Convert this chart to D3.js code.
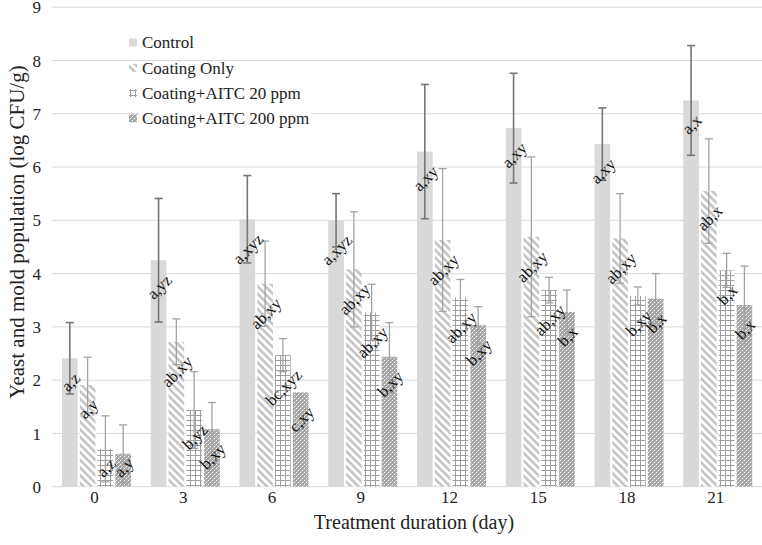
<!DOCTYPE html>
<html><head><meta charset="utf-8">
<script src="https://cdn.jsdelivr.net/npm/d3@7"></script>
<style>
html,body{margin:0;padding:0;background:#fff;}
svg{display:block;font-family:"Liberation Serif","Times New Roman",serif;}
</style></head>
<body>
<svg id="chart" width="762" height="545"></svg>
<script>
const days = ["0","3","6","9","12","15","18","21"];
const seriesNames = ["Control","Coating Only","Coating+AITC 20 ppm","Coating+AITC 200 ppm"];
const yTicks = [0,1,2,3,4,5,6,7,8,9];

const control    = [2.41, 4.25, 5.02, 5.00, 6.29, 6.73, 6.43, 7.25];
const controlErr = [0.67, 1.16, 0.82, 0.50, 1.26, 1.03, 0.68, 1.03];
const coating    = [1.91, 2.72, 3.81, 4.08, 4.63, 4.69, 4.66, 5.55];
const coatingErr = [0.52, 0.43, 0.80, 1.08, 1.34, 1.50, 0.84, 0.98];
const aitc20     = [0.71, 1.44, 2.47, 3.27, 3.55, 3.69, 3.58, 4.06];
const aitc20Err  = [0.62, 0.72, 0.31, 0.53, 0.34, 0.24, 0.17, 0.32];
const aitc200    = [0.62, 1.08, 1.77, 2.44, 3.03, 3.28, 3.53, 3.41];
const aitc200Err = [0.54, 0.50, 0.00, 0.64, 0.35, 0.41, 0.47, 0.73];

const controlLbl = ["a,z","a,yz","a,xyz","a,xyz","a,xy","a,xy","a,xy","a,x"];
const coatingLbl = ["a,y","ab,xy","ab,xy","ab,xy","ab,xy","ab,xy","ab,xy","ab,x"];
const aitc20Lbl  = ["a,z","b,yz","bc,xyz","ab,xy","ab,xy","ab,xy","b,xy","b,x"];
const aitc200Lbl = ["a,y","b,xy","c,xy","b,xy","b,xy","b,x","b,x","b,x"];

const valuesBySeries = [control, coating, aitc20, aitc200];
const errBySeries = [controlErr, coatingErr, aitc20Err, aitc200Err];
const lblBySeries = [controlLbl, coatingLbl, aitc20Lbl, aitc200Lbl];
const fills = ["#d9d9d9","url(#pStripe)","url(#pGrid)","url(#pDot)"];
const errColors = ["#767676","#a3a3a3","#a3a3a3","#a3a3a3"];
const errWidths = [1.6,1.3,1.3,1.3];
const textColor = "#222";

const svg = d3.select("#chart");
const defs = svg.append("defs");
const ps = defs.append("pattern").attr("id","pStripe").attr("patternUnits","userSpaceOnUse")
  .attr("width",5.4).attr("height",10).attr("patternTransform","rotate(-45)");
ps.append("rect").attr("width",5.4).attr("height",10).attr("fill","#fff");
ps.append("rect").attr("width",2.7).attr("height",10).attr("fill","#c6c6c6");
const pg = defs.append("pattern").attr("id","pGrid").attr("patternUnits","userSpaceOnUse")
  .attr("width",5).attr("height",5);
pg.append("rect").attr("width",5).attr("height",5).attr("fill","#fff");
pg.append("rect").attr("x",0).attr("y",0).attr("width",5).attr("height",1).attr("fill","#9e9e9e");
pg.append("rect").attr("x",0).attr("y",0).attr("width",1).attr("height",5).attr("fill","#9e9e9e");
const pd = defs.append("pattern").attr("id","pDot").attr("patternUnits","userSpaceOnUse")
  .attr("width",4).attr("height",4);
pd.append("rect").attr("width",4).attr("height",4).attr("fill","#a6a6a6");
pd.append("rect").attr("x",0).attr("y",0).attr("width",1).attr("height",1).attr("fill","#fff");
pd.append("rect").attr("x",2).attr("y",2).attr("width",1).attr("height",1).attr("fill","#fff");
pd.append("rect").attr("x",1).attr("y",3).attr("width",1).attr("height",1).attr("fill","#c8c8c8");
pd.append("rect").attr("x",3).attr("y",1).attr("width",1).attr("height",1).attr("fill","#c8c8c8");

const plotL = 52, plotR = 762, plotT = 7.2, plotB = 486.7;
const x0 = d3.scaleBand().domain(days).range([plotL, plotR]).padding(0);
const x1 = d3.scaleBand().domain(seriesNames).range([10, 79]).paddingInner(0.12).paddingOuter(0);
const y = d3.scaleLinear().domain([0,9]).range([plotB, plotT]);

svg.append("g").selectAll("line").data(yTicks).join("line")
  .attr("x1",plotL).attr("x2",plotR).attr("y1",d=>y(d)).attr("y2",d=>y(d))
  .attr("stroke","#d9d9d9").attr("stroke-width",1);

svg.append("g").selectAll("text").data(yTicks).join("text")
  .attr("x",41).attr("y",d=>y(d)).attr("dy","0.36em").attr("text-anchor","end")
  .attr("font-size",17).attr("fill",textColor).text(d=>d);

svg.append("g").selectAll("text").data(days).join("text")
  .attr("x",d=>x0(d)+x0.bandwidth()/2 - 2).attr("y",503).attr("text-anchor","middle")
  .attr("font-size",17).attr("fill",textColor).text(d=>d);

svg.append("text").attr("x",414).attr("y",529).attr("text-anchor","middle")
  .attr("font-size",20).attr("fill",textColor).text("Treatment duration (day)");
svg.append("text").attr("transform","translate(17,232) rotate(-90)").attr("text-anchor","middle")
  .attr("dy","0.35em").attr("font-size",21).attr("fill",textColor).text("Yeast and mold population (log CFU/g)");

const leg = svg.append("g");
seriesNames.forEach((s,i)=>{
  const cy = 42.5 + i*25.3;
  const t = leg.append("text").attr("x",142).attr("y",cy).attr("dy","0.35em")
    .attr("font-size",17).attr("fill",textColor).text(s);
  const w = t.node().getComputedTextLength();
  leg.insert("rect","text").attr("x",140).attr("y",cy-6).attr("width",w+4).attr("height",12).attr("fill","#fff");
  leg.append("rect").attr("x",129).attr("y",cy-4).attr("width",8).attr("height",8).attr("fill",fills[i]);
});

const gBars = svg.append("g");
const gErr = svg.append("g");
const gLbl = svg.append("g");
seriesNames.forEach((s,si)=>{
  const vals = valuesBySeries[si];
  gBars.selectAll("rect.s"+si).data(days).join("rect").attr("class","s"+si)
    .attr("x",d=>x0(d)+x1(s)).attr("width",x1.bandwidth())
    .attr("y",(d,i)=>y(vals[i])).attr("height",(d,i)=>y(0)-y(vals[i]))
    .attr("fill",fills[si]);
});
seriesNames.forEach((s,si)=>{
  const vals = valuesBySeries[si], errs = errBySeries[si];
  days.forEach((d,i)=>{
    if (errs[i] <= 0) return;
    const cx = x0(d)+x1(s)+x1.bandwidth()/2;
    const yt = y(vals[i]+errs[i]), yb = y(Math.max(0, vals[i]-errs[i]));
    const g = gErr.append("g").attr("stroke",errColors[si]).attr("stroke-width",errWidths[si]);
    g.append("line").attr("x1",cx).attr("x2",cx).attr("y1",yt).attr("y2",yb);
    g.append("line").attr("x1",cx-4).attr("x2",cx+4).attr("y1",yt).attr("y2",yt);
    g.append("line").attr("x1",cx-4).attr("x2",cx+4).attr("y1",yb).attr("y2",yb);
  });
});
seriesNames.forEach((s,si)=>{
  const vals = valuesBySeries[si], lbls = lblBySeries[si];
  days.forEach((d,i)=>{
    const cx = x0(d)+x1(s)+x1.bandwidth()/2 + 1;
    const t = gLbl.append("text").attr("text-anchor","middle").attr("dy","0.32em")
      .attr("font-size",16.5).attr("fill","#111").text(lbls[i]);
    const w = t.node().getComputedTextLength();
    const half = (w + 12) / (2*Math.SQRT2);
    let cy = y(vals[i]) + 13 + half;
    cy = Math.min(cy, y(0) - half - 8);
    t.attr("x",cx).attr("y",cy).attr("transform",`rotate(-45,${cx},${cy})`);
  });
});
</script>
</body></html>
